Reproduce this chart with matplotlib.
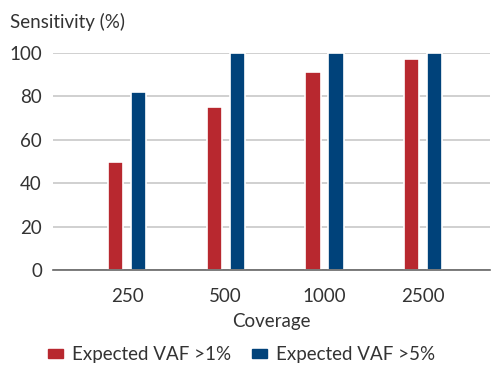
import numpy as np
import matplotlib.pyplot as plt
from matplotlib.patches import Patch

couverture = ["250", "500", "1000", "2500"]
vaf_1 = [50, 75, 91, 97]
vaf_5 = [82, 100, 100, 100]
series = ["Expected VAF >1%", "Expected VAF >5%"]

rouge = "#B8282F"
bleu = "#00427A"
texte = "#333333"

plt.rcParams['font.family'] = ['Lato', 'DejaVu Sans']

fig = plt.figure(figsize=(4.93, 3.65), dpi=100)
ax = fig.add_axes([0.1075, 0.26, 0.887, 0.595])

x = np.arange(len(couverture))
largeur = 0.155
ax.bar(x - 0.116, vaf_1, largeur, color=rouge, edgecolor="white", linewidth=1.2, zorder=3)
ax.bar(x + 0.116, vaf_5, largeur, color=bleu, edgecolor="white", linewidth=1.2, zorder=3)

ax.set_ylim(0, 100)
ax.set_xlim(-0.75, 3.68)
ax.set_yticks(range(0, 101, 20))
ax.set_xticks(x)
ax.set_xticklabels(couverture)
ax.grid(axis="y", color="#C8C8C8", linewidth=1.2, zorder=0)
ax.set_axisbelow(True)
for s in ["top", "right", "left"]:
    ax.spines[s].set_visible(False)
ax.spines["bottom"].set_color("#666666")
ax.spines["bottom"].set_linewidth(1.2)
ax.spines["bottom"].set_zorder(4)
ax.tick_params(axis="both", length=0, labelsize=13.5, colors=texte)
ax.tick_params(axis="x", pad=13)
ax.tick_params(axis="y", pad=8)

ax.set_xlabel("Coverage", fontsize=13.5, color=texte, labelpad=6)
fig.text(0.02, 0.94, "Sensitivity (%)", fontsize=13.5, color=texte, ha="left", va="center")

poignees = [Patch(color=rouge), Patch(color=bleu)]
fig.legend(poignees, series, loc="center", bbox_to_anchor=(0.49, 0.028), ncol=2,
           frameon=False, fontsize=13.5, labelcolor=texte, handlelength=0.8,
           handleheight=0.4, handletextpad=0.5, columnspacing=1.1)

fig.savefig("out.png", dpi=100)
